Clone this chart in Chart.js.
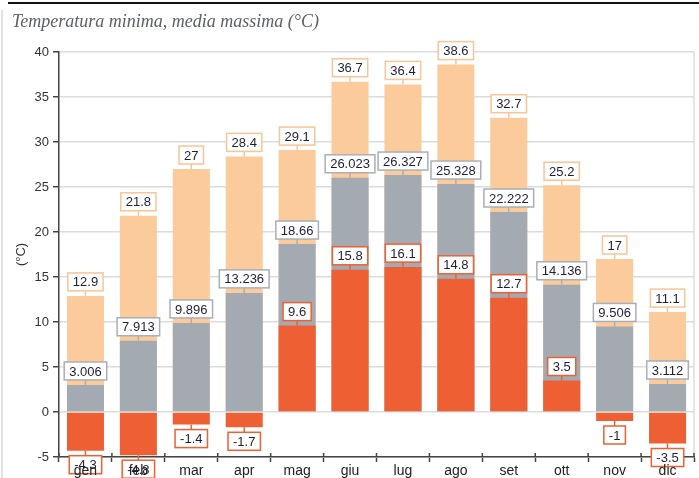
<!DOCTYPE html>
<html lang="it">
<head>
    <meta charset="UTF-8">
    <title>Temperatura minima, media massima</title>
    <script src="https://cdn.jsdelivr.net/npm/chart.js"></script>
    <style>
        html, body { margin: 0; padding: 0; background: #fff; }
        #wrap { width: 699px; height: 478px; position: relative; }
    </style>
</head>
<body>
    <div id="wrap"><canvas id="myChart"></canvas></div>
    <script>
        var months = ['gen', 'feb', 'mar', 'apr', 'mag', 'giu', 'lug', 'ago', 'set', 'ott', 'nov', 'dic'];
        var tMax = [12.9, 21.8, 27, 28.4, 29.1, 36.7, 36.4, 38.6, 32.7, 25.2, 17, 11.1];
        var tMedia = [3.006, 7.913, 9.896, 13.236, 18.66, 26.023, 26.327, 25.328, 22.222, 14.136, 9.506, 3.112];
        var tMin = [-4.3, -4.8, -1.4, -1.7, 9.6, 15.8, 16.1, 14.8, 12.7, 3.5, -1, -3.5];
        var yTicks = [-5, 0, 5, 10, 15, 20, 25, 30, 35, 40];

        var colMax = '#fbcb9b', colMedia = '#a3aab1', colMin = '#ee6034';
        var edgeMax = '#f8c596', edgeMedia = '#a9afb6', edgeMin = '#ee6034';
        var sans = '"Liberation Sans", Arial, sans-serif';

        // frame lines + right border of plot
        var framePlugin = {
            id: 'frame',
            beforeDraw: function (chart) {
                var c = chart.ctx;
                c.save();
                c.fillStyle = '#fff';
                c.fillRect(0, 0, chart.width, chart.height);
                c.strokeStyle = '#111';
                c.lineWidth = 2;
                c.beginPath(); c.moveTo(8, 3); c.lineTo(chart.width, 3); c.stroke();
                c.strokeStyle = '#e2e2e2';
                c.lineWidth = 2;
                c.beginPath(); c.moveTo(2, 10); c.lineTo(2, chart.height); c.stroke();
                var a = chart.chartArea;
                c.strokeStyle = '#dcdcdc';
                c.lineWidth = 1.5;
                c.beginPath(); c.moveTo(a.right, a.top); c.lineTo(a.right, a.bottom); c.stroke();
                c.restore();
            }
        };

        // boxed value labels tied to each bar end
        var boxLabels = {
            id: 'boxLabels',
            afterDatasetsDraw: function (chart) {
                var c = chart.ctx;
                c.save();
                c.font = '13px ' + sans;
                c.textAlign = 'center';
                c.textBaseline = 'middle';
                chart.data.datasets.forEach(function (ds, di) {
                    var meta = chart.getDatasetMeta(di);
                    meta.data.forEach(function (bar, i) {
                        var v = ds.data[i];
                        var txt = String(v);
                        var w = c.measureText(txt).width + 10;
                        var h = 18;
                        var gap = 5;
                        var top = v >= 0 ? bar.y - gap - h : bar.y + gap;
                        c.strokeStyle = ds.labelEdge;
                        c.lineWidth = 1.5;
                        c.beginPath();
                        c.moveTo(bar.x, bar.y);
                        c.lineTo(bar.x, v >= 0 ? top + h : top);
                        c.stroke();
                        c.fillStyle = '#fff';
                        c.fillRect(bar.x - w / 2, top, w, h);
                        c.strokeRect(bar.x - w / 2, top, w, h);
                        c.fillStyle = '#1e1e38';
                        c.fillText(txt, bar.x, top + h / 2 + 1);
                    });
                });
                c.restore();
            },
            // month labels and inner tick halves go on top of the boxes
            afterDraw: function (chart) {
                var c = chart.ctx;
                var xs = chart.scales.x;
                c.save();
                c.strokeStyle = '#444';
                c.lineWidth = 1.5;
                var n = xs.ticks.length;
                var step = n > 1 ? xs.getPixelForTick(1) - xs.getPixelForTick(0) : xs.width;
                for (var i = 0; i <= n; i++) {
                    var bx = xs.getPixelForTick(0) - step / 2 + i * step;
                    c.beginPath(); c.moveTo(bx, xs.top - 4); c.lineTo(bx, xs.top); c.stroke();
                }
                c.font = '14px ' + sans;
                c.fillStyle = '#222';
                c.textAlign = 'center';
                c.textBaseline = 'middle';
                xs.ticks.forEach(function (t, i) {
                    c.fillText(chart.data.labels[i], xs.getPixelForTick(i), xs.top + 14);
                });
                c.restore();
            }
        };

        var ctx = document.getElementById('myChart').getContext('2d');
        var myChart = new Chart(ctx, {
            type: 'bar',
            data: {
                labels: months,
                datasets: [
                    { label: 'massima', data: tMax, backgroundColor: colMax, labelEdge: edgeMax, order: 3 },
                    { label: 'media', data: tMedia, backgroundColor: colMedia, labelEdge: edgeMedia, order: 2 },
                    { label: 'minima', data: tMin, backgroundColor: colMin, labelEdge: edgeMin, order: 1 }
                ]
            },
            plugins: [framePlugin, boxLabels],
            options: {
                responsive: true,
                maintainAspectRatio: false,
                animation: false,
                layout: { padding: { left: 12, right: 5, top: 0, bottom: 0 } },
                datasets: {
                    bar: { grouped: false, categoryPercentage: 1, barPercentage: 0.7, borderWidth: 0 }
                },
                plugins: {
                    legend: { display: false },
                    tooltip: { enabled: false },
                    title: {
                        display: true,
                        text: 'Temperatura minima, media massima (°C)',
                        align: 'start',
                        color: '#5b5f66',
                        font: { family: '"Liberation Serif", "DejaVu Serif", serif', size: 18, style: 'italic', weight: 'normal' },
                        padding: { top: 11, bottom: 19.4 }
                    }
                },
                scales: {
                    x: {
                        grid: { display: true, drawOnChartArea: false, offset: true, tickLength: 5, tickColor: '#444', tickWidth: 1.5 },
                        border: { color: '#444', width: 1.5 },
                        ticks: { display: false },
                        afterFit: function (s) { s.height = 21; }
                    },
                    y: {
                        min: -5,
                        max: 40,
                        afterBuildTicks: function (s) { s.ticks = yTicks.map(function (v) { return { value: v }; }); },
                        grid: { color: '#dcdcdc', lineWidth: 1.5, tickLength: 6, tickColor: '#444', tickWidth: 1.5 },
                        border: { color: '#444', width: 1.5 },
                        ticks: { color: '#333', padding: 4, font: { family: sans, size: 13 } },
                        title: { display: true, text: '(°C)', color: '#333', padding: { top: 2, bottom: 0 }, font: { family: sans, size: 13 } },
                        afterFit: function (s) { s.width = 47; }
                    }
                }
            }
        });
    </script>
</body>
</html>
